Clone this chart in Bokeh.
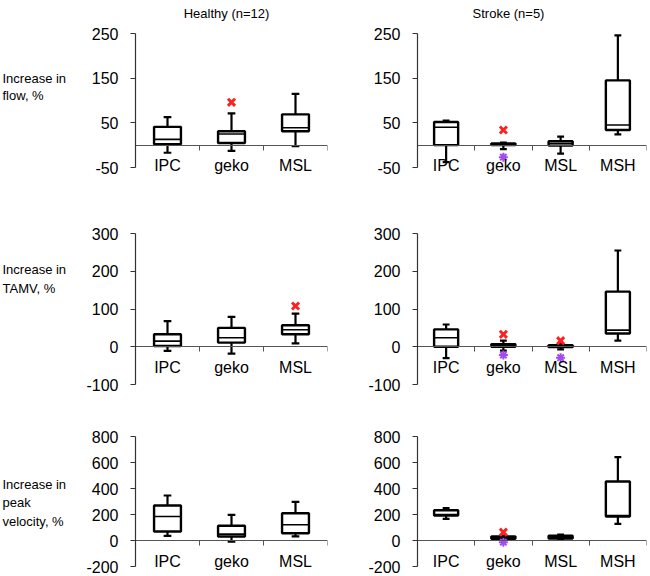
from bokeh.plotting import figure
from bokeh.models import ColumnDataSource, Range1d, FixedTicker, LinearAxis, Label
from bokeh.layouts import column, row
from bokeh.embed import file_html
from bokeh.resources import INLINE

# ---------------- data ----------------
col_titles = ["Healthy (n=12)", "Stroke (n=5)"]
row_labels = [["Increase in", "flow, %"],
              ["Increase in", "TAMV, %"],
              ["Increase in", "peak", "velocity, %"]]

healthy_cats = ["IPC", "geko", "MSL"]
stroke_cats = ["IPC", "geko", "MSL", "MSH"]

flow_ticks = [-50, 50, 150, 250]
tamv_ticks = [-100, 0, 100, 200, 300]
velocity_ticks = [-200, 0, 200, 400, 600, 800]

# Flow, healthy
flow_h_low = [-17, -13, -2]
flow_h_q1 = [2, 5, 31]
flow_h_med = [13, 25, 39]
flow_h_q3 = [41, 31, 69]
flow_h_high = [63, 71, 115]
flow_h_red_cat = ["geko"]
flow_h_red_val = [96]
flow_h_pur_cat = []
flow_h_pur_val = []

# Flow, stroke
flow_s_low = [-38, -9, -19, 24]
flow_s_q1 = [0, 0, -1, 34]
flow_s_med = [40, 2, 4, 45]
flow_s_q3 = [52, 4, 9, 145]
flow_s_high = [55, 6, 19, 246]
flow_s_red_cat = ["geko"]
flow_s_red_val = [34]
flow_s_pur_cat = ["geko"]
flow_s_pur_val = [-27]

# TAMV, healthy
tamv_h_low = [-11, -18, 9]
tamv_h_q1 = [2, 11, 33]
tamv_h_med = [15, 24, 45]
tamv_h_q3 = [33, 50, 57]
tamv_h_high = [68, 79, 88]
tamv_h_red_cat = ["MSL"]
tamv_h_red_val = [108]
tamv_h_pur_cat = []
tamv_h_pur_val = []

# TAMV, stroke
tamv_s_low = [-30, -10, -7, 16]
tamv_s_q1 = [0, 0, -1, 35]
tamv_s_med = [24, 4, 2, 44]
tamv_s_q3 = [46, 7, 4, 146]
tamv_s_high = [59, 16, 9, 255]
tamv_s_red_cat = ["geko", "MSL"]
tamv_s_red_val = [33, 16]
tamv_s_pur_cat = ["geko", "MSL"]
tamv_s_pur_val = [-22, -29]

# Peak velocity, healthy
vel_h_low = [36, -8, 31]
vel_h_q1 = [69, 31, 56]
vel_h_med = [185, 49, 121]
vel_h_q3 = [269, 113, 210]
vel_h_high = [346, 197, 297]
vel_h_red_cat = []
vel_h_red_val = []
vel_h_pur_cat = []
vel_h_pur_val = []

# Peak velocity, stroke
vel_s_low = [167, 8, 13, 128]
vel_s_q1 = [192, 13, 15, 185]
vel_s_med = [200, 21, 26, 192]
vel_s_q3 = [233, 31, 36, 454]
vel_s_high = [249, 38, 46, 641]
vel_s_red_cat = ["geko"]
vel_s_red_val = [64]
vel_s_pur_cat = ["geko"]
vel_s_pur_val = [-13]

# ---------------- layout / style ----------------
FONT = "Liberation Sans"
AXIS_COLOR = "#555555"
HEADER_H = 22
LABEL_W = 82
LEFT = dict(width=250, bl=53, br=5)
RIGHT = dict(width=318, bl=85, br=4)
ROWS = [dict(bt=11, fh=134, pad=10, bb=23),
        dict(bt=33, fh=151, pad=0, bb=21),
        dict(bt=31, fh=130, pad=5, bb=5)]
BOX_W = 0.42
CAP_HALF = 0.06


def blank_fig(width, height):
    f = figure(width=width, height=height, x_range=Range1d(0, 1), y_range=Range1d(0, 1),
               min_border=0, x_axis_location=None, y_axis_location=None,
               output_backend="svg", toolbar_location=None, tools="")
    f.title.visible = False
    f.outline_line_color = None
    f.xgrid.visible = False
    f.ygrid.visible = False
    return f


def make_panel(cats, low, q1, med, q3, high, red_cat, red_val, pur_cat, pur_val,
               ticks, colcfg, rowcfg):
    n = len(cats)
    pos = {c: i + 0.5 for i, c in enumerate(cats)}   # category centre on a numeric scale
    xs = [pos[c] for c in cats]
    span = ticks[-1] - ticks[0]
    ylow = ticks[0] - rowcfg["pad"] * span / rowcfg["fh"]
    h = rowcfg["bt"] + rowcfg["fh"] + rowcfg["pad"] + rowcfg["bb"]
    p = figure(x_range=Range1d(0, n), y_range=Range1d(ylow, ticks[-1]),
               width=colcfg["width"], height=h,
               min_border_left=colcfg["bl"], min_border_right=colcfg["br"],
               min_border_top=rowcfg["bt"], min_border_bottom=rowcfg["bb"],
               output_backend="svg", toolbar_location=None, tools="")
    p.title.visible = False
    p.outline_line_color = None
    p.xgrid.visible = False
    p.ygrid.visible = False

    src = ColumnDataSource(dict(
        x=xs, cl=[x - CAP_HALF for x in xs], cr=[x + CAP_HALF for x in xs],
        bl=[x - BOX_W / 2 for x in xs], br=[x + BOX_W / 2 for x in xs],
        low=low, q1=q1, med=med, q3=q3, high=high))

    # whiskers
    p.segment(x0="x", y0="q3", x1="x", y1="high", source=src,
              line_color="black", line_width=2.2)
    p.segment(x0="x", y0="q1", x1="x", y1="low", source=src,
              line_color="black", line_width=2.2)
    # caps
    for fld in ("high", "low"):
        p.segment(x0="cl", y0=fld, x1="cr", y1=fld, source=src,
                  line_color="black", line_width=2.2)
    # boxes
    p.vbar(x="x", top="q3", bottom="q1", width=BOX_W, source=src,
           fill_color="white", line_color="black", line_width=2.4)
    # medians
    p.segment(x0="bl", y0="med", x1="br", y1="med", source=src,
              line_color="black", line_width=1.6)

    if red_cat:
        p.scatter(x=[pos[c] for c in red_cat], y=red_val, marker="x", size=10,
                  line_color="#ff2020", line_width=3)
    if pur_cat:
        p.scatter(x=[pos[c] for c in pur_cat], y=pur_val, marker="asterisk", size=9,
                  line_color="#a24cf0", line_width=2)

    # category axis on the zero line
    xa = p.xaxis[0]
    xa.fixed_location = 0
    xa.ticker = FixedTicker(ticks=xs)
    xa.major_label_overrides = {pos[c]: c for c in cats}
    xa.axis_line_color = AXIS_COLOR
    xa.axis_line_width = 1.2
    xa.major_tick_line_color = None
    xa.major_tick_out = 0
    xa.major_tick_in = 0
    xa.minor_tick_line_color = None
    xa.major_label_standoff = 12
    xa.major_label_text_font = FONT
    xa.major_label_text_font_size = "16px"
    xa.major_label_text_color = "black"

    # separator ticks between categories
    sep = LinearAxis(ticker=FixedTicker(ticks=list(range(1, n + 1))),
                     fixed_location=0, axis_line_color=None,
                     major_tick_line_color=AXIS_COLOR, major_tick_out=5, major_tick_in=0,
                     minor_tick_line_color=None, major_label_text_color=None,
                     major_label_text_font_size="1px")
    p.add_layout(sep, "below")

    ya = p.yaxis[0]
    ya.ticker = FixedTicker(ticks=ticks)
    ya.bounds = (ticks[0], ticks[-1])
    ya.major_label_overrides = {t: str(t) for t in ticks}
    ya.axis_line_color = "#333333"
    ya.axis_line_width = 1.2
    ya.major_tick_line_color = "#333333"
    ya.major_tick_out = 5
    ya.major_tick_in = 0
    ya.minor_tick_line_color = None
    ya.major_label_standoff = 12
    ya.major_label_text_font = FONT
    ya.major_label_text_font_size = "16px"
    ya.major_label_text_color = "black"
    return p


panels = [
    (make_panel(healthy_cats, flow_h_low, flow_h_q1, flow_h_med, flow_h_q3, flow_h_high,
                flow_h_red_cat, flow_h_red_val, flow_h_pur_cat, flow_h_pur_val,
                flow_ticks, LEFT, ROWS[0]),
     make_panel(stroke_cats, flow_s_low, flow_s_q1, flow_s_med, flow_s_q3, flow_s_high,
                flow_s_red_cat, flow_s_red_val, flow_s_pur_cat, flow_s_pur_val,
                flow_ticks, RIGHT, ROWS[0])),
    (make_panel(healthy_cats, tamv_h_low, tamv_h_q1, tamv_h_med, tamv_h_q3, tamv_h_high,
                tamv_h_red_cat, tamv_h_red_val, tamv_h_pur_cat, tamv_h_pur_val,
                tamv_ticks, LEFT, ROWS[1]),
     make_panel(stroke_cats, tamv_s_low, tamv_s_q1, tamv_s_med, tamv_s_q3, tamv_s_high,
                tamv_s_red_cat, tamv_s_red_val, tamv_s_pur_cat, tamv_s_pur_val,
                tamv_ticks, RIGHT, ROWS[1])),
    (make_panel(healthy_cats, vel_h_low, vel_h_q1, vel_h_med, vel_h_q3, vel_h_high,
                vel_h_red_cat, vel_h_red_val, vel_h_pur_cat, vel_h_pur_val,
                velocity_ticks, LEFT, ROWS[2]),
     make_panel(stroke_cats, vel_s_low, vel_s_q1, vel_s_med, vel_s_q3, vel_s_high,
                vel_s_red_cat, vel_s_red_val, vel_s_pur_cat, vel_s_pur_val,
                velocity_ticks, RIGHT, ROWS[2])),
]

# header strip with the column titles
total_w = LABEL_W + LEFT["width"] + RIGHT["width"]
header = blank_fig(total_w, HEADER_H)
title_x = [226, 508]
for t, tx in zip(col_titles, title_x):
    header.add_layout(Label(x=tx, y=HEADER_H - 13, x_units="screen", y_units="screen",
                            text=t, text_font=FONT, text_font_size="13px",
                            text_align="center", text_baseline="alphabetic",
                            text_color="black"))

# row label strips (baseline positions measured from each strip's bottom)
row_label_y = [[99, 82], [115, 96], [87, 69, 50]]
rows = [header]
for (pl, pr), lines, ys, rc in zip(panels, row_labels, row_label_y, ROWS):
    h = rc["bt"] + rc["fh"] + rc["pad"] + rc["bb"]
    lab = blank_fig(LABEL_W, h)
    for txt, yy in zip(lines, ys):
        lab.add_layout(Label(x=2, y=yy, x_units="screen", y_units="screen", text=txt,
                             text_font=FONT, text_font_size="13px", text_align="left",
                             text_baseline="alphabetic", text_color="black"))
    rows.append(row(lab, pl, pr, spacing=0))

layout = column(*rows, spacing=0)

open("out.html", "w").write(file_html(layout, INLINE))
